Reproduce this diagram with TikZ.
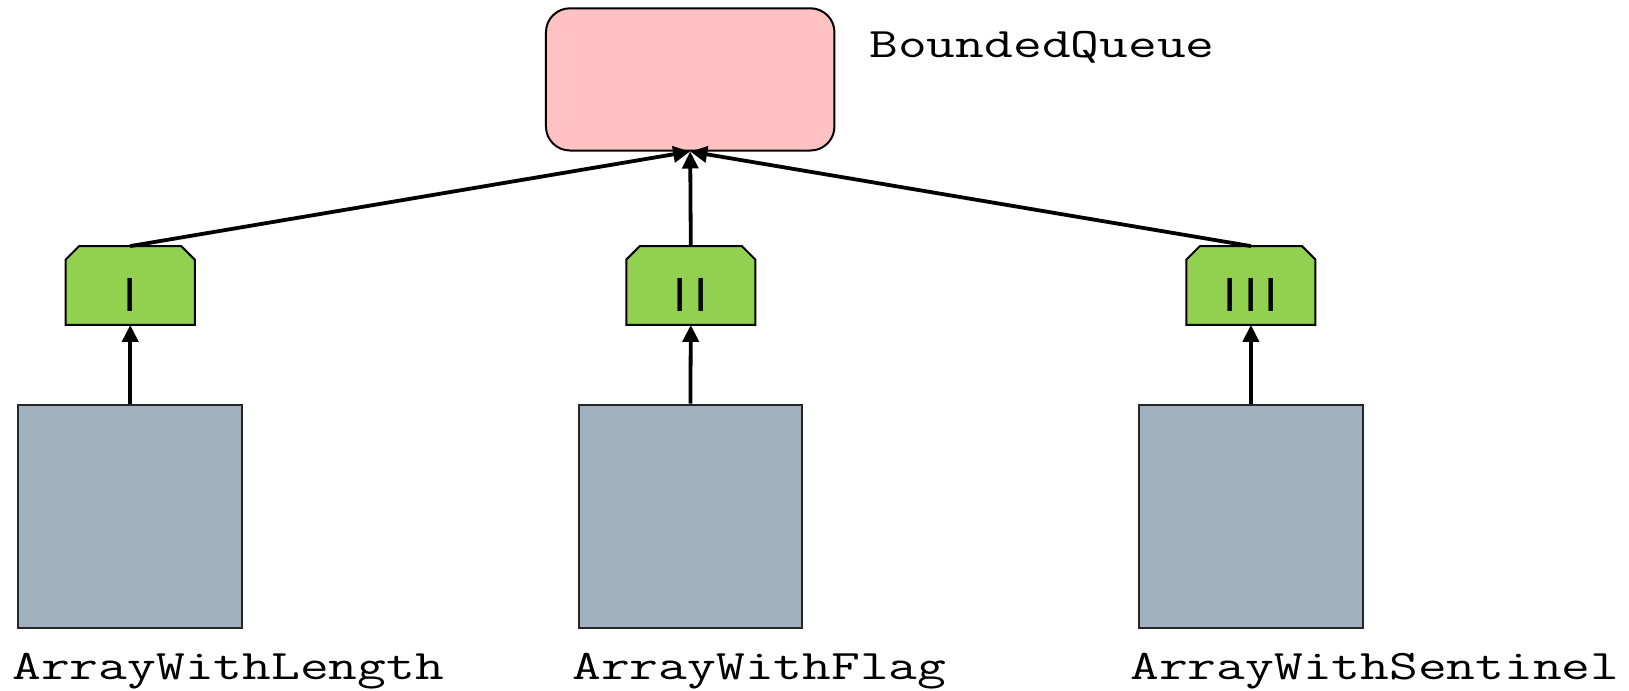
\documentclass[tikz,border=0pt]{standalone}
\usepackage{fontspec}
\usepackage{graphicx}
\usetikzlibrary{arrows.meta,backgrounds}

\newfontfamily\tagfont{Liberation Sans}
\definecolor{queuepink}{HTML}{FFC1C1}
\definecolor{taggreen}{HTML}{92D050}
\definecolor{arraygray}{HTML}{A2B1C0}

% wide typewriter labels
\newcommand{\codelabel}[1]{{\ttfamily\fontsize{21bp}{25bp}\selectfont\scalebox{1.33}[1]{#1}}}
\newcommand{\tagkern}{\kern3.5bp}

\begin{document}
\begin{tikzpicture}[
  x=0.5bp, y=-0.5bp,
  queuebox/.style={draw=black, line width=1bp, fill=queuepink, rounded corners=12bp,
    minimum width=144.25bp, minimum height=71.1bp, inner sep=0pt},
  tagbox/.style={draw=none, minimum width=64.15bp, minimum height=39bp, inner sep=0pt,
    font=\tagfont\fontsize{24bp}{28bp}\selectfont, text height=25.7bp, text depth=0pt},
  tagshape/.style={draw=black, line width=1bp, fill=taggreen, line join=miter},
  arraybox/.style={draw=black!85, line width=1bp, fill=arraygray,
    minimum width=111.85bp, minimum height=111.85bp, inner sep=0pt},
  codetext/.style={anchor=base west, inner sep=0pt},
  link/.style={line width=1.9bp, -{Triangle[length=8.5bp,width=8bp]}}
]
\useasboundingbox (0,0) rectangle (1629,691);

% interface
\node[queuebox] (queue) at (690.2,79.4) {};
\node[codetext] (queuename) at (869,58) {\codelabel{BoundedQueue}};

% implementation tags
\node[tagbox] (tagI)   at (130.2,285.5)  {I};
\node[tagbox] (tagII)  at (690.8,285.5)  {I\tagkern I};
\node[tagbox] (tagIII) at (1250.9,285.5) {I\tagkern I\tagkern I};

\begin{scope}[on background layer]
  \foreach \t in {tagI,tagII,tagIII}
    \filldraw[tagshape] ([yshift=-6.75bp]\t.north west) -- ([xshift=6.75bp]\t.north west)
      -- ([xshift=-6.75bp]\t.north east) -- ([yshift=-6.75bp]\t.north east)
      -- (\t.south east) -- (\t.south west) -- cycle;
\end{scope}

% concrete classes
\node[arraybox] (arrLen)  at (130.2,516.5)  {};
\node[arraybox] (arrFlag) at (690.4,516.5)  {};
\node[arraybox] (arrSent) at (1250.9,516.5) {};

\node[codetext] (lblLen)  at (12,679)   {\codelabel{ArrayWithLength}};
\node[codetext] (lblFlag) at (572,679)  {\codelabel{ArrayWithFlag}};
\node[codetext] (lblSent) at (1130,679) {\codelabel{ArrayWithSentinel}};

% connectors
\draw[link] (tagI.north)   -- (queue.south);
\draw[link] (tagII.north)  -- (queue.south);
\draw[link] (tagIII.north) -- (queue.south);
\draw[link] (arrLen.north)  -- (tagI.south);
\draw[link] (arrFlag.north) -- (tagII.south);
\draw[link] (arrSent.north) -- (tagIII.south);
\end{tikzpicture}
\end{document}
